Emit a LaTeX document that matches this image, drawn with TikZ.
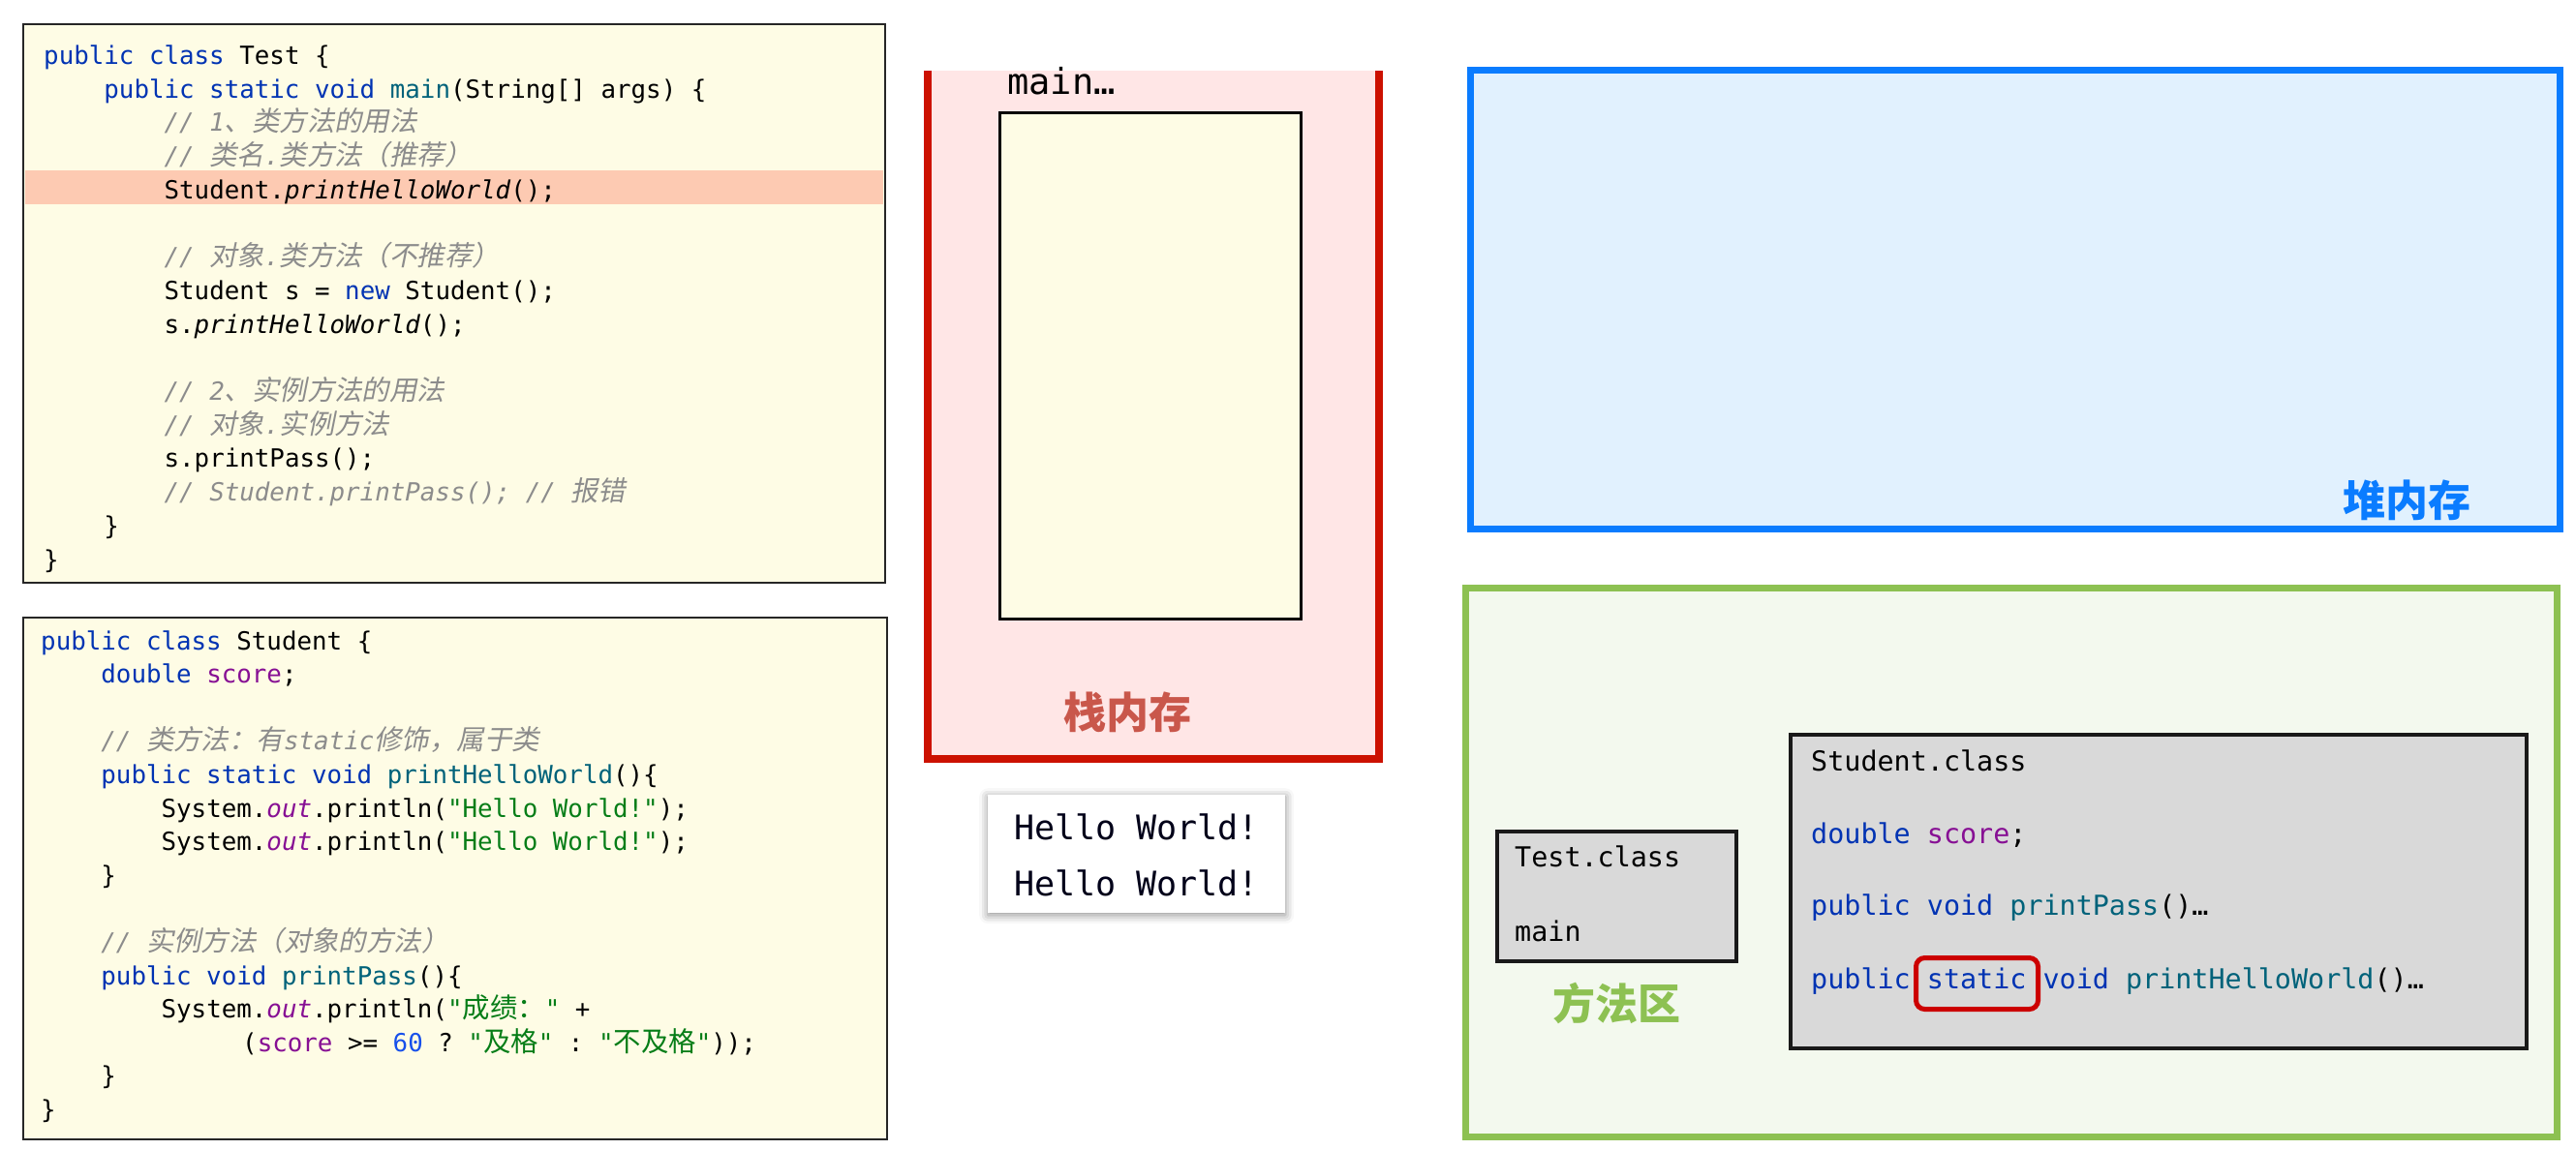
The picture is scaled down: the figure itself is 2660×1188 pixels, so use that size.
\documentclass[tikz,border=0pt]{standalone}
\usepackage{fontspec}
\setmonofont{DejaVu Sans Mono}
\newfontfamily\zhnfont{Noto Sans CJK SC}[Scale=1.1]
\newfontfamily\zhifont{Noto Sans CJK SC}[Scale=1.1,FakeSlant=0.2]
\newfontfamily\zhbfont{Noto Sans CJK SC}
\usetikzlibrary{shadows.blur}
\definecolor{kwc}{HTML}{0033B3}
\definecolor{strc}{HTML}{067D17}
\definecolor{numc}{HTML}{1750EB}
\definecolor{cmtc}{HTML}{8C8C8C}
\definecolor{fldc}{HTML}{871094}
\definecolor{mthc}{HTML}{00627A}
\definecolor{codebg}{HTML}{FEFCE5}
\definecolor{hlbg}{HTML}{FDCAB2}
\definecolor{stackbg}{HTML}{FFE6E6}
\definecolor{stackred}{HTML}{CC1100}
\definecolor{stacklbl}{HTML}{C9574B}
\definecolor{heapbg}{HTML}{E1F1FE}
\definecolor{heapblue}{HTML}{0A7CFF}
\definecolor{methbg}{HTML}{F3F9EE}
\definecolor{methgreen}{HTML}{8DC152}
\definecolor{classbg}{HTML}{D9D9D9}
\definecolor{staticred}{HTML}{CC0000}
\newcommand\jkw[1]{\textcolor{kwc}{#1}}
\newcommand\jstr[1]{\textcolor{strc}{#1}}
\newcommand\jnum[1]{\textcolor{numc}{#1}}
\newcommand\jfld[1]{\textcolor{fldc}{#1}}
\newcommand\jmth[1]{\textcolor{mthc}{#1}}
\newcommand\jit[1]{{\itshape #1}}
\newcommand\jcmt[1]{{\color{cmtc}\itshape #1}}
\newcommand\zhn[1]{{\zhnfont #1}}
\newcommand\zhi[1]{{\zhifont #1}}
\tikzset{
  codebox/.style={draw=black!85,line width=2,fill=codebg},
  cl/.style={anchor=base west,inner sep=0,font=\ttfamily\fontsize{25.83}{34.6}\selectfont},
  ml/.style={anchor=base west,inner sep=0,font=\ttfamily\fontsize{28.4}{34}\selectfont},
  ol/.style={anchor=base west,inner sep=0,text=black!90!blue,font=\ttfamily\fontsize{35}{40}\selectfont},
  classbox/.style={draw=black!90,line width=4,fill=classbg},
  arealbl/.style={inner sep=0,font=\zhbfont\bfseries\fontsize{44}{50}\selectfont},
}
\begin{document}
\begin{tikzpicture}[x=1pt,y=-1pt]
\useasboundingbox (0,0) rectangle (2660,1188);
% ---------- Test code ----------
\path[codebox] (24,25) rectangle (914,602);
\fill[hlbg] (26,176) rectangle (912,211);
\node[cl] (t1) at (45,66.5) {\jkw{public class} Test \{};
\node[cl] (t2) at (107.2,101.2) {\jkw{public static void} \jmth{main}(String[] args) \{};
\node[cl] (t3) at (169.4,135.9) {\jcmt{// 1\zhi{、类方法的用法}}};
\node[cl] (t4) at (169.4,170.6) {\jcmt{// \zhi{类名}.\zhi{类方法（推荐）}}};
\node[cl] (t5) at (169.4,205.3) {Student.\jit{printHelloWorld}();};
\node[cl] (t7) at (169.4,274.7) {\jcmt{// \zhi{对象}.\zhi{类方法（不推荐）}}};
\node[cl] (t8) at (169.4,309.4) {Student s = \jkw{new} Student();};
\node[cl] (t9) at (169.4,344.1) {s.\jit{printHelloWorld}();};
\node[cl] (t11) at (169.4,413.5) {\jcmt{// 2\zhi{、实例方法的用法}}};
\node[cl] (t12) at (169.4,448.2) {\jcmt{// \zhi{对象}.\zhi{实例方法}}};
\node[cl] (t13) at (169.4,482.9) {s.printPass();};
\node[cl] (t14) at (169.4,517.6) {\jcmt{// Student.printPass(); // \zhi{报错}}};
\node[cl] (t15) at (107.2,552.3) {\}};
\node[cl] (t16) at (45,587.0) {\}};
% ---------- Student code ----------
\path[codebox] (24,638) rectangle (916,1177);
\node[cl] (s1) at (42,671) {\jkw{public class} Student \{};
\node[cl] (s2) at (104.2,705.6) {\jkw{double} \jfld{score};};
\node[cl] (s4) at (104.2,774.8) {\jcmt{// \zhi{类方法：有}static\zhi{修饰，属于类}}};
\node[cl] (s5) at (104.2,809.4) {\jkw{public static void} \jmth{printHelloWorld}()\{};
\node[cl] (s6) at (166.4,844.0) {System.\jfld{\jit{out}}.println(\jstr{"Hello World!"});};
\node[cl] (s7) at (166.4,878.6) {System.\jfld{\jit{out}}.println(\jstr{"Hello World!"});};
\node[cl] (s8) at (104.2,913.2) {\}};
\node[cl] (s10) at (104.2,982.4) {\jcmt{// \zhi{实例方法（对象的方法）}}};
\node[cl] (s11) at (104.2,1017.0) {\jkw{public void} \jmth{printPass}()\{};
\node[cl] (s12) at (166.4,1051.6) {System.\jfld{\jit{out}}.println(\jstr{"\zhn{成绩：}"} +};
\node[cl] (s13) at (250,1086.2) {(\jfld{score} >= \jnum{60} ? \jstr{"\zhn{及格}"} : \jstr{"\zhn{不及格}"}));};
\node[cl] (s14) at (104.2,1120.8) {\}};
\node[cl] (s15) at (42,1155.4) {\}};
% ---------- Stack ----------
\fill[stackbg] (958,73) rectangle (1424,784);
\draw[stackred,line width=8,line join=miter] (958,73) -- (958,784) -- (1424,784) -- (1424,73);
\node[anchor=base west,inner sep=0,font=\ttfamily\fontsize{37}{42}\selectfont] (mainlbl) at (1040,98) {main…};
\node[draw=black,line width=3,fill=codebg,minimum width=311,minimum height=523,inner sep=0,anchor=north west] (frame) at (1031,115) {};
\node[arealbl,text=stacklbl] (stacklabel) at (1164,736) {栈内存};
% ---------- Console ----------
\node[fill=white,blur shadow={shadow xshift=0pt,shadow yshift=-2pt,shadow blur radius=9pt,shadow opacity=45},minimum width=307,minimum height=122,inner sep=0,anchor=north west] (console) at (1020,821) {};
\node[ol] (o1) at (1047,867) {Hello World!};
\node[ol] (o2) at (1047,925) {Hello World!};
% ---------- Heap ----------
\path[draw=heapblue,line width=7,fill=heapbg] (1518,73) rectangle (2643,546);
\node[arealbl,text=heapblue] (heaplabel) at (2485,517) {堆内存};
% ---------- Method area ----------
\path[draw=methgreen,line width=7,fill=methbg] (1513,607) rectangle (2640,1174);
\node[classbox,minimum width=247,minimum height=134,inner sep=0,anchor=north west] (testclass) at (1544,857) {};
\node[ml] (tc1) at (1564,895) {Test.class};
\node[ml] (tc2) at (1564,972) {main};
\node[arealbl,text=methgreen] (methlabel) at (1669,1037) {方法区};
\node[classbox,minimum width=760,minimum height=324,inner sep=0,anchor=north west] (studclass) at (1847,757) {};
\node[ml] (sc1) at (1870,796) {Student.class};
\node[ml] (sc2) at (1870,871) {\jkw{double} \jfld{score};};
\node[ml] (sc3) at (1870,945) {\jkw{public void} \jmth{printPass}()…};
\node[ml] (sc4) at (1870,1021) {\jkw{public static void} \jmth{printHelloWorld}()…};
\node[draw=staticred,line width=5,rounded corners=9,minimum width=126,minimum height=53,inner sep=0,anchor=north west] (staticmark) at (1976,987) {};
\end{tikzpicture}
\end{document}
